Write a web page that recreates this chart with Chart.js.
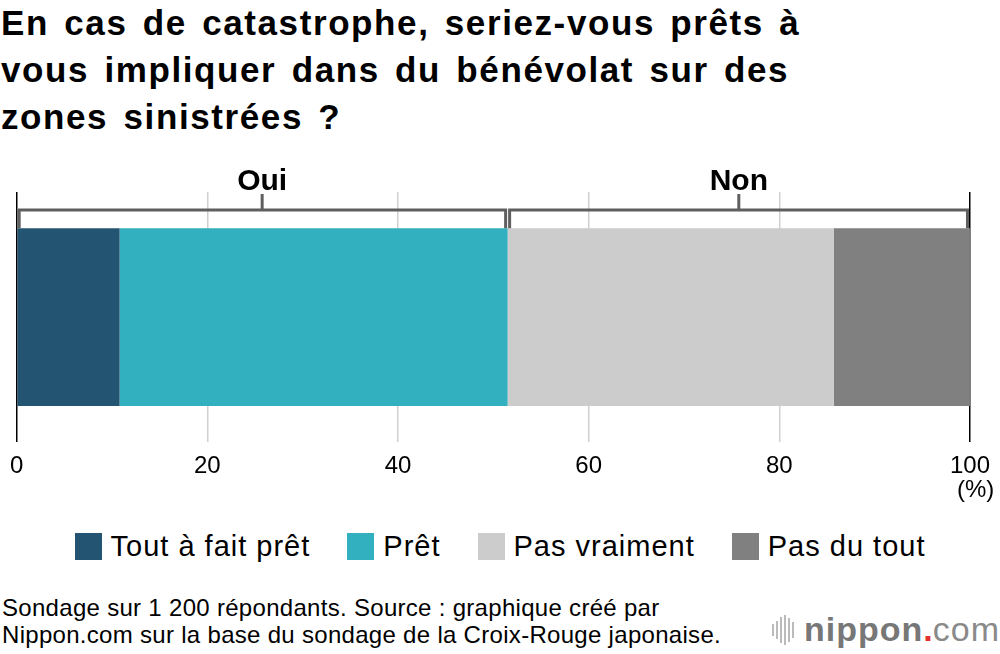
<!DOCTYPE html>
<html lang="fr">
<head>
<meta charset="utf-8">
<script src="https://cdn.jsdelivr.net/npm/chart.js@4/dist/chart.umd.min.js"></script>
<style>
  html, body { margin: 0; padding: 0; background: #fff; }
  body { width: 1000px; height: 654px; position: relative; overflow: hidden;
         font-family: 'Liberation Sans', Arial, sans-serif; color: #000; }
  #title { position: absolute; left: 1px; top: -1px; font-size: 35px; font-weight: bold;
           line-height: 47px; letter-spacing: 1.6px; word-spacing: 4px; white-space: nowrap; }
  #chartBox { position: absolute; left: 0; top: 150px; width: 1000px; height: 347px; }
  #pct { position: absolute; left: 957px; top: 475px; font-size: 24px; }
  #legend { position: absolute; left: 0; top: 530px; width: 1000px; display: flex;
            justify-content: center; gap: 37px; font-size: 29px; line-height: 32px;
            letter-spacing: 1px; }
  #legend .item { display: flex; align-items: center; }
  #legend .box { width: 27px; height: 27px; margin-right: 9px; }
  #foot { position: absolute; left: 2px; top: 594px; font-size: 24px; line-height: 27px;
          letter-spacing: 0.3px; }
  #logo { position: absolute; left: 772px; top: 610px; font-size: 34px; color: #777;
          display: flex; align-items: center; }
  #logo .bars { display: inline-flex; align-items: center; gap: 2px; margin-right: 10px; }
  #logo .bars i { display: block; width: 2px; background: #bbb; }
  #logo .nip { font-weight: bold; letter-spacing: 1px; }
  #logo .dot { color: #e3312d; font-weight: bold; }
  #logo .com { color: #8a8a8a; letter-spacing: 1px; }
</style>
</head>
<body>
<div id="title">En cas de catastrophe, seriez-vous prêts à<br>vous impliquer dans du bénévolat sur des<br>zones sinistrées ?</div>
<div id="chartBox"><canvas id="mainChart"></canvas></div>
<div id="pct">(%)</div>
<div id="legend"></div>
<div id="foot">Sondage sur 1 200 répondants. Source : graphique créé par<br>Nippon.com sur la base du sondage de la Croix-Rouge japonaise.</div>
<div id="logo"><span class="bars"><i style="height:12px"></i><i style="height:18px"></i><i style="height:26px"></i><i style="height:30px"></i><i style="height:24px"></i><i style="height:16px"></i></span><span class="nip">nippon</span><span class="dot">.</span><span class="com">com</span></div>

<script>
'use strict';

// ── Data ──────────────────────────────────────────────────────────────────────
const categories = ['Réponses'];
const seriesLabels = ['Tout à fait prêt', 'Prêt', 'Pas vraiment', 'Pas du tout'];
const seriesValues = [10.8, 40.7, 34.2, 14.3];
const seriesColors = ['#235573', '#33b0bf', '#cccccc', '#808080'];
const xTicks = [0, 20, 40, 60, 80, 100];
const groupLabels = ['Oui', 'Non'];
const groupRanges = [[0, 51.5], [51.5, 100]];

// ── Legend ────────────────────────────────────────────────────────────────────
const legend = document.getElementById('legend');
seriesLabels.forEach((lab, i) => {
  const it = document.createElement('div');
  it.className = 'item';
  it.innerHTML = `<span class="box" style="background:${seriesColors[i]}"></span>${lab}`;
  legend.appendChild(it);
});

// ── Bracket plugin (Oui / Non) ────────────────────────────────────────────────
const bracketPlugin = {
  id: 'brackets',
  afterDatasetsDraw(chart) {
    const { ctx, chartArea, scales } = chart;
    const bar = chart.getDatasetMeta(0).data[0];
    const barTop = bar.y - bar.height / 2;
    const lineY = chartArea.top + 18;
    ctx.save();
    ctx.strokeStyle = '#5f5f5f';
    ctx.fillStyle = '#000';
    ctx.lineWidth = 3;
    ctx.font = 'bold 30px "Liberation Sans", Arial, sans-serif';
    ctx.textAlign = 'center';
    ctx.textBaseline = 'alphabetic';
    groupRanges.forEach((r, i) => {
      const x0 = scales.x.getPixelForValue(r[0]) + (i === 0 ? 2.5 : 2);
      const x1 = scales.x.getPixelForValue(r[1]) - (i === 0 ? 2 : 2.5);
      ctx.beginPath();
      ctx.moveTo(x0, barTop);
      ctx.lineTo(x0, lineY);
      ctx.lineTo(x1, lineY);
      ctx.lineTo(x1, barTop);
      ctx.stroke();
      const xm = scales.x.getPixelForValue((r[0] + r[1]) / 2);
      ctx.beginPath();
      ctx.moveTo(xm, lineY);
      ctx.lineTo(xm, lineY - 16);
      ctx.stroke();
      ctx.fillText(groupLabels[i], xm, lineY - 20);
    });
    ctx.restore();
  }
};

// ── Chart ─────────────────────────────────────────────────────────────────────
const datasets = seriesLabels.map((lab, i) => ({
  label: lab,
  data: [seriesValues[i]],
  backgroundColor: seriesColors[i],
  borderWidth: 0,
  categoryPercentage: 1,
  barPercentage: 0.71,
}));

new Chart(document.getElementById('mainChart').getContext('2d'), {
  type: 'bar',
  data: { labels: categories, datasets },
  plugins: [bracketPlugin],
  options: {
    indexAxis: 'y',
    responsive: true,
    maintainAspectRatio: false,
    animation: false,
    layout: { padding: { left: 16, right: 28, top: 42, bottom: 6 } },
    plugins: { legend: { display: false }, tooltip: { enabled: false } },
    scales: {
      x: {
        stacked: true,
        min: 0,
        max: 100,
        afterBuildTicks: s => { s.ticks = xTicks.map(v => ({ value: v })); },
        border: { display: false },
        grid: {
          drawTicks: false,
          lineWidth: 1.5,
          color: c => (c.tick && (c.tick.value === 0 || c.tick.value === 100)) ? '#000' : '#d0d0d0',
        },
        ticks: {
          color: '#000',
          padding: 10,
          font: { family: 'Liberation Sans', size: 24 },
        },
      },
      y: { stacked: true, display: false },
    },
  },
});
</script>
</body>
</html>
